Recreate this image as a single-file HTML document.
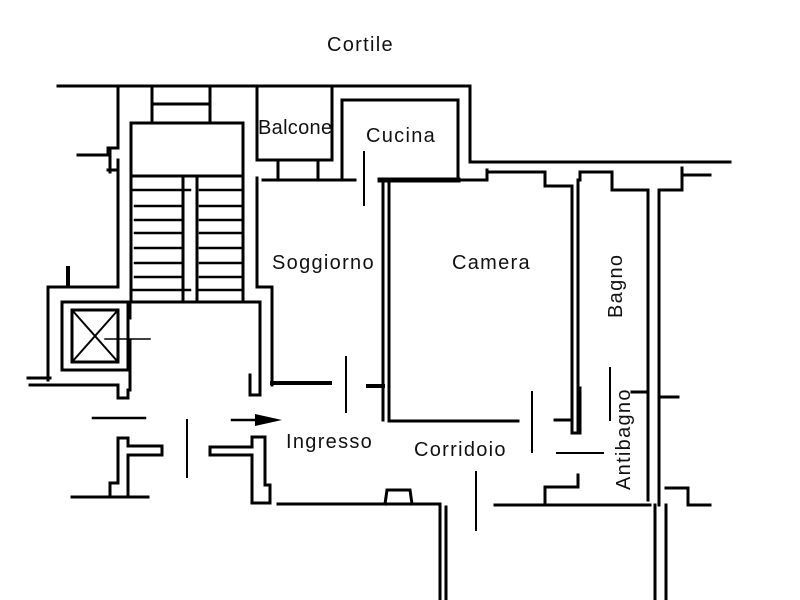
<!DOCTYPE html>
<html><head><style>
body{margin:0;background:#fff;}
svg{display:block}
text{font-family:"Liberation Sans",sans-serif;font-size:20px;letter-spacing:1.3px;fill:#111}
</style></head><body>
<svg width="800" height="600" viewBox="0 0 800 600" xmlns="http://www.w3.org/2000/svg">
<g fill="none" stroke="#000" stroke-width="3" stroke-linecap="square">
<polyline points="58,86 470,86 470,162 730,162"/>
<polyline points="118,86 118,148 108,148 108,155 78,155"/>
<polyline points="118,160 118,287 48,287 48,380"/>
<line x1="110" y1="148" x2="110" y2="172"/>
<line x1="108" y1="170" x2="118" y2="170"/>
<line x1="68" y1="268" x2="68" y2="285" stroke-width="4"/>
<polyline points="152,86 152,123"/>
<polyline points="210,86 210,123"/>
<line x1="152" y1="104" x2="210" y2="104"/>
<rect x="131" y="123" width="112" height="179"/>
<line x1="131" y1="176" x2="243" y2="176"/>
<line x1="183" y1="176" x2="183" y2="302"/>
<line x1="197" y1="176" x2="197" y2="302"/>
<g stroke-width="2.5">
<line x1="131" y1="190" x2="190" y2="190"/><line x1="200" y1="190" x2="243" y2="190"/>
<line x1="135" y1="206" x2="183" y2="206"/><line x1="200" y1="206" x2="243" y2="206"/>
<line x1="135" y1="220" x2="183" y2="220"/><line x1="200" y1="220" x2="243" y2="220"/>
<line x1="135" y1="233" x2="183" y2="233"/><line x1="200" y1="233" x2="243" y2="233"/>
<line x1="135" y1="248" x2="183" y2="248"/><line x1="200" y1="248" x2="243" y2="248"/>
<line x1="135" y1="263" x2="183" y2="263"/><line x1="200" y1="263" x2="243" y2="263"/>
<line x1="135" y1="277" x2="183" y2="277"/><line x1="200" y1="277" x2="243" y2="277"/>
<line x1="131" y1="290" x2="190" y2="290"/><line x1="197" y1="290" x2="243" y2="290"/>
</g>
<polyline points="131,302 260,302 260,395 250,395 250,375"/>
<polyline points="130,302 130,318"/>
<polyline points="130,340 130,390 128,390 128,398"/>
<rect x="62" y="302" width="66" height="68"/>
<rect x="72" y="310" width="46" height="52"/>
<line x1="72" y1="310" x2="118" y2="362" stroke-width="2"/>
<line x1="118" y1="310" x2="72" y2="362" stroke-width="2"/>
<line x1="105" y1="339" x2="150" y2="339" stroke-width="1.5"/>
<line x1="28" y1="378" x2="50" y2="378"/>
<polyline points="30,385 118,385 118,398 128,398"/>
<polyline points="257,86 257,160 332,160 332,86"/>
<polyline points="257,178 257,287 272,287 272,385"/>
<rect x="278" y="160" width="40" height="20"/>
<line x1="263" y1="180" x2="355" y2="180"/>
<polyline points="342,178 342,100 458,100 458,180"/>
<line x1="364" y1="152" x2="364" y2="205" stroke-width="2"/>
<line x1="380" y1="180" x2="458" y2="180" stroke-width="5"/>
<polyline points="458,180 487,180 487,170"/>
<polyline points="487,172 545,172 545,186 572,186 572,430"/>
<polyline points="580,172 580,180 578,180 578,430"/>
<polyline points="582,172 612,172 612,190 648,190 648,500"/>
<polyline points="659,190 682,190 682,175 710,175"/>
<line x1="682" y1="168" x2="682" y2="190"/>
<line x1="659" y1="190" x2="659" y2="505"/>
<line x1="383" y1="180" x2="383" y2="420" stroke-width="3"/>
<line x1="389" y1="182" x2="389" y2="420"/>
<line x1="368" y1="386" x2="383" y2="386" stroke-width="4"/>
<line x1="272" y1="383" x2="330" y2="383" stroke-width="4"/>
<line x1="346" y1="357" x2="346" y2="412" stroke-width="2"/>
<line x1="389" y1="421" x2="518" y2="421" stroke-width="3"/>
<line x1="532" y1="392" x2="532" y2="452" stroke-width="2"/>
<polyline points="555,420 572,420 572,433 580,433 580,388"/>
<line x1="557" y1="453" x2="603" y2="453" stroke-width="2"/>
<line x1="610" y1="368" x2="610" y2="420" stroke-width="2"/>
<line x1="632" y1="392" x2="648" y2="392"/>
<line x1="659" y1="397" x2="678" y2="397"/>
<polyline points="278,504 440,504 440,600"/>
<line x1="446" y1="507" x2="446" y2="600"/>
<polyline points="385,504 387,490 410,490 412,504"/>
<line x1="476" y1="472" x2="476" y2="530" stroke-width="2"/>
<polyline points="495,505 650,505"/>
<polyline points="545,505 545,487 578,487 578,475"/>
<polyline points="655,505 655,600"/>
<polyline points="666,505 666,600"/>
<polyline points="666,488 688,488 688,505 710,505"/>
<line x1="93" y1="418" x2="145" y2="418" stroke-width="2.5"/>
<line x1="232" y1="420" x2="262" y2="420" stroke-width="2.5"/>
<line x1="187" y1="420" x2="187" y2="477" stroke-width="2"/>
<polyline points="72,497 148,497"/>
<polyline points="110,497 110,483 118,483 118,438 128,438 128,446 162,446 162,455 128,455 128,497"/>
<polyline points="210,447 210,455 252,455 252,503 270,503 270,485 265,485 265,437 252,437 252,447 210,447"/>
</g>
<polygon points="255,414 282,420 255,426" fill="#000"/>
<text x="327" y="51">Cortile</text>
<text x="258" y="134" style="letter-spacing:0.3px">Balcone</text>
<text x="366" y="142">Cucina</text>
<text x="272" y="269">Soggiorno</text>
<text x="452" y="269">Camera</text>
<text transform="translate(622,318) rotate(-90)">Bagno</text>
<text x="286" y="448">Ingresso</text>
<text x="414" y="456">Corridoio</text>
<text transform="translate(630,490) rotate(-90)">Antibagno</text>
</svg>
</body></html>
